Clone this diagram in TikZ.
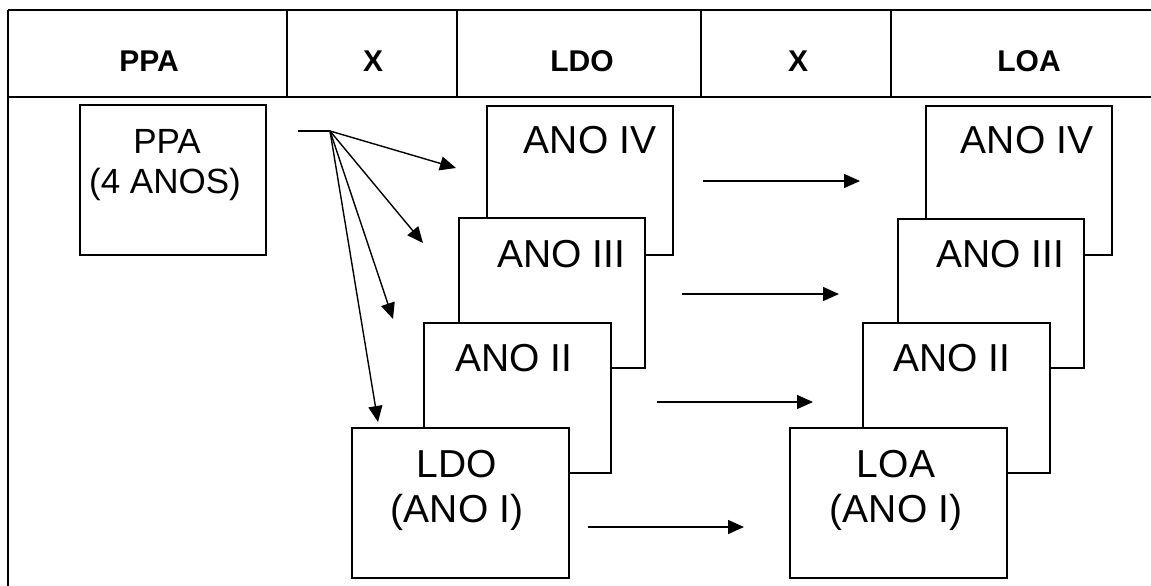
\documentclass[tikz,border=0pt]{standalone}
\usepackage{fontspec}
\setmainfont{Liberation Sans}
\usetikzlibrary{arrows.meta}
\tikzset{
  tbl/.style={line width=2.2pt},
  sheet/.style={draw, line width=1.4pt, fill=white, inner sep=0pt},
  hdr/.style={anchor=base, inner sep=0pt, font=\fontsize{30}{36}\selectfont\bfseries},
  big/.style={anchor=base, inner sep=0pt, font=\fontsize{39}{45}\selectfont},
  mid/.style={anchor=base, inner sep=0pt, font=\fontsize{35}{40}\selectfont},
  arr/.style={line width=1.4pt, -{Triangle[length=16pt,width=14pt]}},
}
\begin{document}
\begin{tikzpicture}[x=1pt,y=-1pt]
\useasboundingbox (0,0) rectangle (1151,586);
% table
\coordinate (tl) at (8,10);
\coordinate (tr) at (1151,10);
\coordinate (hl) at (8,97);
\coordinate (hr) at (1151,97);
\coordinate (bl) at (8,586);
\draw[tbl] (tl) -- (tr);
\draw[tbl] (hl) -- (hr);
\draw[tbl] (tl) -- (bl);
\foreach \x [count=\i] in {287,457,701,891}{
  \coordinate (dt\i) at (\x,10);
  \coordinate (db\i) at (\x,97);
  \draw[tbl] (dt\i) -- (db\i);
}
\node[hdr] (h1) at (149,72) {PPA};
\node[hdr] (h2) at (373,72) {X};
\node[hdr] (h3) at (582,72) {LDO};
\node[hdr] (h4) at (798,72) {X};
\node[hdr] (h5) at (1029,72) {LOA};
% PPA box
\node[sheet, minimum width=186pt, minimum height=150pt] (ppa) at (173,180) {};
\node[mid] (ppat1) at (167,153) {PPA};
\node[mid] (ppat2) at (165,193) {(4 ANOS)};
% LDO stack
\node[sheet, minimum width=186pt, minimum height=149pt] (l4) at (580,180.5) {};
\node[big] (l4t) at (590,153) {ANO IV};
\node[sheet, minimum width=186pt, minimum height=150pt] (l3) at (552,293) {};
\node[big] (l3t) at (561,267) {ANO III};
\node[sheet, minimum width=187pt, minimum height=150pt] (l2) at (517.5,398) {};
\node[big] (l2t) at (514,371) {ANO II};
\node[sheet, minimum width=217pt, minimum height=150pt] (l1) at (460.5,503) {};
\node[big] (l1t) at (457,477) {LDO};
\node[big] (l1u) at (457,522) {(ANO I)};
% LOA stack
\node[sheet, minimum width=186pt, minimum height=149pt] (o4) at (1019,180.5) {};
\node[big] (o4t) at (1027,153) {ANO IV};
\node[sheet, minimum width=186pt, minimum height=149pt] (o3) at (991,293.5) {};
\node[big] (o3t) at (1000,267) {ANO III};
\node[sheet, minimum width=187pt, minimum height=150pt] (o2) at (956.5,398) {};
\node[big] (o2t) at (952,371) {ANO II};
\node[sheet, minimum width=217pt, minimum height=150pt] (o1) at (898.5,503) {};
\node[big] (o1t) at (896,477) {LOA};
\node[big] (o1u) at (896,522) {(ANO I)};
% fan arrows
\coordinate (fs) at (298,131);
\coordinate (f) at (330,131);
\coordinate (t4) at (456,168);
\coordinate (t3) at (423,243);
\coordinate (t2) at (393,319);
\coordinate (t1) at (378,422);
\draw[line width=1.4pt] (fs) -- (f);
\draw[arr] (f) -- (t4);
\draw[arr] (f) -- (t3);
\draw[arr] (f) -- (t2);
\draw[arr] (f) -- (t1);
% horizontal arrows
\coordinate (a4) at (703,181); \coordinate (b4) at (860,181);
\coordinate (a3) at (682,294); \coordinate (b3) at (839,294);
\coordinate (a2) at (657,402); \coordinate (b2) at (813,402);
\coordinate (a1) at (588,527); \coordinate (b1) at (744,527);
\draw[arr] (a4) -- (b4);
\draw[arr] (a3) -- (b3);
\draw[arr] (a2) -- (b2);
\draw[arr] (a1) -- (b1);
\end{tikzpicture}
\end{document}
